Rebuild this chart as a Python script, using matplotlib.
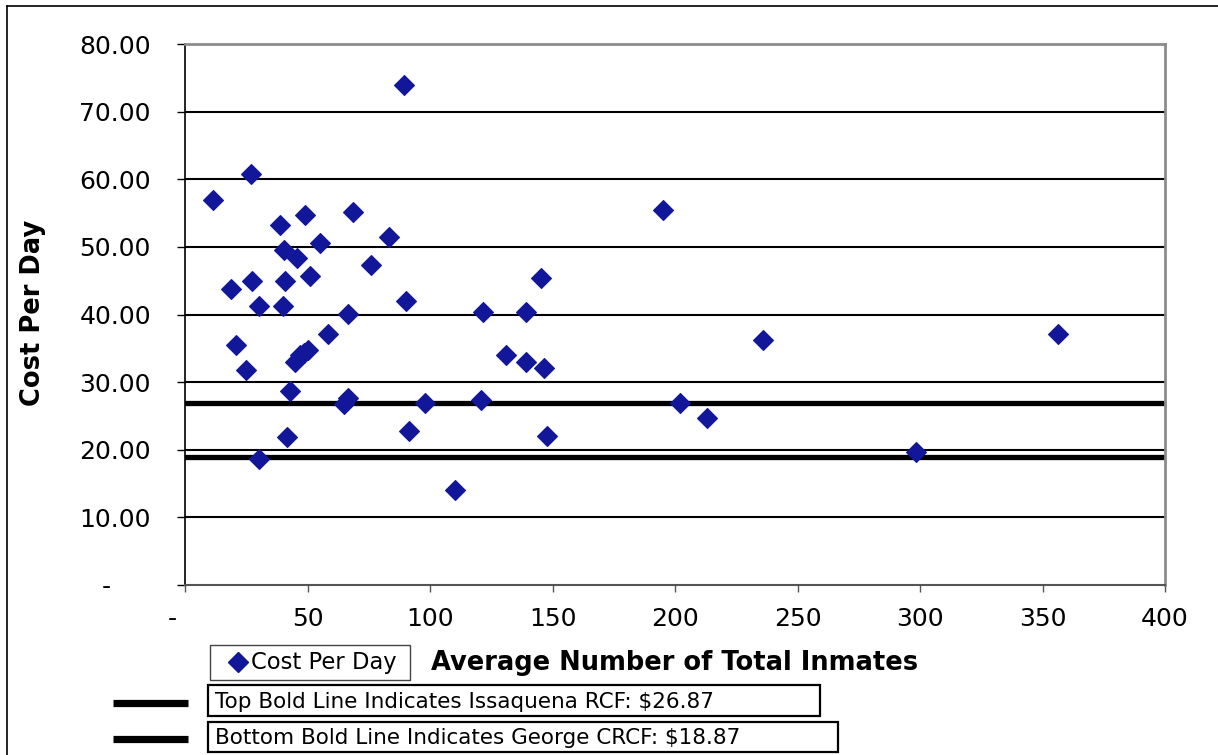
import matplotlib
matplotlib.use("Agg")
import matplotlib.pyplot as plt
from matplotlib.lines import Line2D
from matplotlib.patches import Rectangle
from matplotlib.ticker import FixedLocator, FuncFormatter

# Average daily inmate population and cost per inmate-day by facility
inmates = [11.4, 26.9, 18.8, 20.8, 24.9, 27.3, 30.2, 30.2, 38.8, 40.4,
           40.8, 40.0, 42.9, 41.6, 45.7, 49.0, 51.0, 55.1, 58.4, 44.9,
           46.9, 48.6, 50.2, 64.9, 66.5, 66.5, 68.6, 75.9, 83.3, 89.4,
           90.2, 91.4, 98.0, 110.2, 120.8, 121.6, 131.0, 139.2, 139.2, 145.3,
           146.5, 147.8, 195.1, 202.0, 213.1, 235.9, 298.4, 356.3]
cost_per_day = [56.9, 60.8, 43.8, 35.5, 31.8, 45.0, 41.3, 18.6, 53.2, 49.5,
                45.0, 41.3, 28.7, 21.9, 48.4, 54.7, 45.7, 50.6, 37.1, 33.0,
                34.0, 34.3, 34.7, 26.8, 27.7, 40.1, 55.2, 47.3, 51.5, 73.9,
                42.0, 22.8, 26.9, 14.0, 27.4, 40.4, 34.0, 40.4, 33.0, 45.4,
                32.1, 22.0, 55.4, 26.9, 24.7, 36.2, 19.7, 37.1]

issaquena_rate = 26.87
george_rate = 18.87

x_ticks = [0, 50, 100, 150, 200, 250, 300, 350, 400]
y_ticks = [0, 10, 20, 30, 40, 50, 60, 70, 80]

series_label = "Cost Per Day"
x_title = "Average Number of Total Inmates"
y_title = "Cost Per Day"
top_note = "Top Bold Line Indicates Issaquena RCF: $26.87"
bottom_note = "Bottom Bold Line Indicates George CRCF: $18.87"

W, H = 1218, 755
MARK = "#12179a"
MS = 10


def fx(px):
    return px / W


def fy(py):
    return 1 - py / H


fig = plt.figure(figsize=(W / 100, H / 100), dpi=100)
ax = fig.add_axes([fx(185), fy(585), fx(1165) - fx(185), fy(44) - fy(585)])

ax.set_xlim(x_ticks[0], x_ticks[-1])
ax.set_ylim(y_ticks[0], y_ticks[-1])

# horizontal gridlines
for v in y_ticks[1:-1]:
    ax.axhline(v, color="black", lw=1.5, zorder=1)

# reference rates
ax.axhline(issaquena_rate, color="black", lw=3.8, zorder=2)
ax.axhline(george_rate, color="black", lw=3.8, zorder=2)

ax.plot(inmates, cost_per_day, linestyle="none", marker="D", ms=MS,
        mfc=MARK, mec=MARK, mew=0.8, zorder=3)

# frame
for side in ("top", "right"):
    ax.spines[side].set_color("#8c8c8c")
    ax.spines[side].set_linewidth(2)
ax.spines["left"].set_color("black")
ax.spines["left"].set_linewidth(1.2)
ax.spines["bottom"].set_color("#555555")
ax.spines["bottom"].set_linewidth(1.5)

ax.xaxis.set_major_locator(FixedLocator(x_ticks))
ax.yaxis.set_major_locator(FixedLocator(y_ticks))
ax.xaxis.set_major_formatter(FuncFormatter(
    lambda v, p: "-\u2007 " if v == 0 else f"{v:.0f}"))
ax.yaxis.set_major_formatter(FuncFormatter(
    lambda v, p: "-\u2007\u2007 " if v == 0 else f"{v:.2f}"))
ax.tick_params(axis="y", direction="out", length=5.5, width=1, color="black",
               labelsize=18, pad=19)
ax.tick_params(axis="x", direction="out", length=5, width=1, color="#555555",
               labelsize=18, pad=11)

fig.text(fx(33), fy(313), y_title, rotation=90, ha="center", va="center",
         fontsize=18.5, fontweight="bold")
fig.text(fx(675), fy(663), x_title, ha="center", va="center",
         fontsize=18.5, fontweight="bold")

# series key
fig.add_artist(Rectangle((fx(210), fy(680)), fx(410) - fx(210), fy(645) - fy(680),
                         transform=fig.transFigure, fill=False,
                         edgecolor="#444444", lw=1))
fig.add_artist(Line2D([fx(238)], [fy(662)], transform=fig.transFigure,
                      marker="D", ms=MS, mfc=MARK, mec=MARK, linestyle="none"))
fig.text(fx(251), fy(662), series_label, ha="left", va="center", fontsize=16.3)

# bold-line notes
notes = [(top_note, 685, 716, 820, 703), (bottom_note, 722, 752, 838, 739)]
for text, top, bot, right, yline in notes:
    fig.add_artist(Line2D([fx(113), fx(188)], [fy(yline), fy(yline)],
                          transform=fig.transFigure, color="black", lw=5.2,
                          solid_capstyle="butt"))
    fig.add_artist(Rectangle((fx(208), fy(bot)), fx(right) - fx(208), fy(top) - fy(bot),
                             transform=fig.transFigure, fill=False,
                             edgecolor="black", lw=1.6))
    fig.text(fx(215), fy((top + bot) / 2 + 1), text, ha="left", va="center",
             fontsize=15.5)

# outer border
fig.add_artist(Line2D([fx(7), 1], [fy(5.5), fy(5.5)], transform=fig.transFigure,
                      color="black", lw=1.2))
fig.add_artist(Line2D([fx(7), fx(7)], [fy(5.5), 0], transform=fig.transFigure,
                      color="black", lw=1.2))

fig.savefig("out.png", dpi=100)
